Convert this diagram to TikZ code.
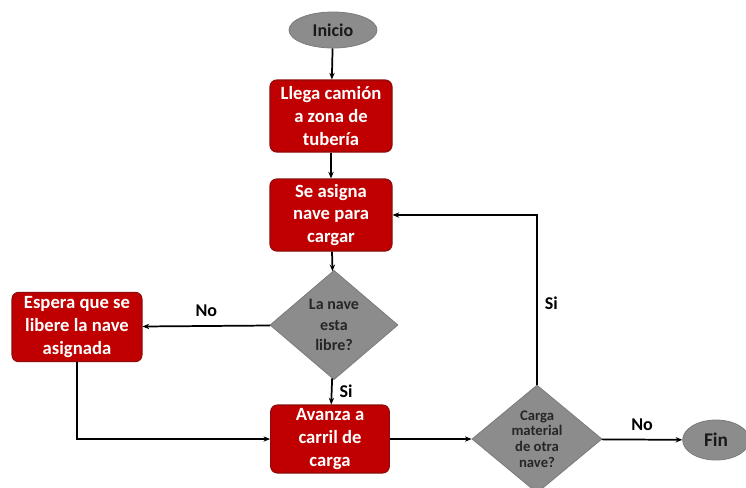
\documentclass[tikz,border=0pt]{standalone}
\usepackage{fontspec}
\setmainfont{Carlito}
\usetikzlibrary{shapes.geometric,arrows.meta}

\definecolor{boxred}{HTML}{C00000}
\definecolor{boxedge}{HTML}{8E0B0B}
\definecolor{decgray}{HTML}{8C8C8C}
\definecolor{decedge}{HTML}{7A7A7A}

\tikzset{
  proc/.style={rectangle, rounded corners=5pt, fill=boxred, draw=boxedge, line width=0.8pt,
    text=white, font=\bfseries\fontsize{14}{17}\selectfont, align=center,
    minimum width=91.5pt, minimum height=54pt, inner sep=1pt},
  decide/.style={diamond, fill=decgray, draw=decedge, line width=0.6pt, align=center,
    inner sep=0pt, text=black!85},
  term/.style={ellipse, fill=decgray, draw=decedge, line width=0.6pt, inner sep=0pt,
    text=black!90},
  flow/.style={-{Stealth[length=5pt,width=4pt]}, line width=1.3pt},
  lbl/.style={font=\bfseries\fontsize{13.5}{15}\selectfont}
}

\begin{document}
\begin{tikzpicture}[x=0.75pt,y=-0.75pt]
  \useasboundingbox (0,0) rectangle (746,487);

  % Terminals
  \node[term, minimum width=66pt, minimum height=27pt,
    font=\bfseries\fontsize{13.5}{15}\selectfont] (inicio) at (333,30) {Inicio};
  \node[term, minimum width=50pt, minimum height=30pt,
    font=\bfseries\fontsize{14.5}{16}\selectfont] (fin) at (716,440) {Fin};

  % Process boxes
  \node[proc] (llega) at (331,116) {Llega camión\\a zona de\\tubería};
  \node[proc] (asigna) at (331,215) {Se asigna\\nave para\\cargar};
  \node[proc, minimum width=97.5pt, minimum height=52pt] (espera) at (77,327) {Espera que se\\libere la nave\\asignada};
  \node[proc, minimum width=89pt, minimum height=51pt] (avanza) at (330,439) {Avanza a\\carril de\\carga};

  % Decisions
  \node[decide, minimum width=96pt, minimum height=82pt,
    font=\bfseries\fontsize{12}{15.5}\selectfont] (libre) at (334,325) {La nave\\esta\\libre?};
  \node[decide, minimum width=97.5pt, minimum height=72pt,
    font=\bfseries\fontsize{11}{11.8}\selectfont] (otra) at (537,439) {Carga\\material\\de otra\\nave?};

  % Main flow
  \draw[flow] (inicio) -- (llega);
  \draw[flow] (llega) -- (asigna);
  \draw[flow] (asigna) -- (libre);
  \draw[flow] (libre) -- node[lbl, right=2pt] {Si} (avanza);
  \draw[flow] (libre) -- node[lbl, above=3pt] {No} (espera);
  \draw[flow] (espera.south) |- (avanza.west);
  \draw[flow] (avanza) -- (otra);
  \draw[flow] (otra) -- node[lbl, above=3pt] {No} (fin);

  % Loop back
  \draw[flow] (otra.north) |- node[lbl, pos=0.24, right=2pt] {Si} (asigna.east);
\end{tikzpicture}
\end{document}
